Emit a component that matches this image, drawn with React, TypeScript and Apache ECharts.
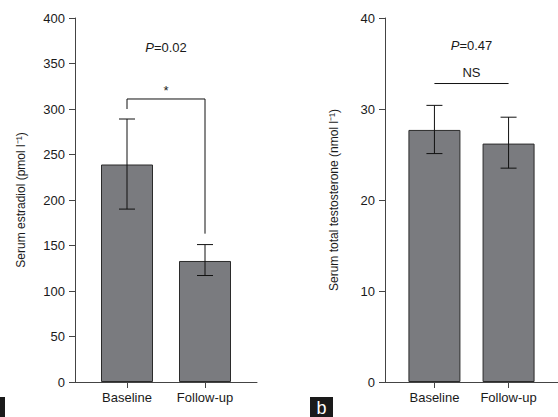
import React, { useEffect, useRef } from "react";
import * as echarts from "echarts";

const categories = ["Baseline", "Follow-up"];
const estradiolMean = [239, 133];
const estradiolLow = [190, 117];
const estradiolHigh = [289, 151];
const testoMean = [27.7, 26.2];
const testoLow = [25.1, 23.5];
const testoHigh = [30.4, 29.1];
// bracket: [x, y] points
const estradiolBracket = [[0, 300], [0, 311], [1, 311], [1, 163]];
const testoBracket = [[0, 32.8], [1, 32.8]];
const estradiolNotes = [
  { x: 0.5, y: 368, text: "{i|P}=0.02" },
  { x: 0.5, y: 320, text: "*" },
];
const testoNotes = [
  { x: 0.5, y: 37.0, text: "{i|P}=0.47" },
  { x: 0.5, y: 34.0, text: "NS" },
];

const FONT = "'Liberation Sans', Arial, Helvetica, sans-serif";
const BAR = "#7a7b7f";
const DARK = "#2b2b2b";
const AXIS = "#444";

function xAxisDef(gridIndex: number) {
  return {
    type: "value",
    gridIndex,
    min: -2 / 3,
    max: 5 / 3,
    splitLine: { show: false },
    axisLine: { show: true, onZero: false, lineStyle: { color: AXIS, width: 1 } },
    axisTick: { show: true, customValues: [0, 1], length: 6, lineStyle: { color: AXIS } },
    axisLabel: {
      customValues: [0, 1],
      formatter: (v: number) => categories[Math.round(v)] ?? "",
      color: "#1a1a1a",
      fontSize: 13,
      fontFamily: FONT,
      margin: 9,
    },
  };
}

function yAxisDef(gridIndex: number, max: number, interval: number, name: string, nameGap: number) {
  return {
    type: "value",
    gridIndex,
    min: 0,
    max,
    interval,
    name,
    nameLocation: "middle",
    nameGap,
    nameTextStyle: { color: "#1a1a1a", fontSize: 12, fontFamily: FONT },
    splitLine: { show: false },
    axisLine: { show: true, onZero: false, lineStyle: { color: AXIS, width: 1 } },
    axisTick: { show: true, length: 6, lineStyle: { color: AXIS } },
    axisLabel: { color: "#1a1a1a", fontSize: 13, fontFamily: FONT, margin: 10 },
  };
}

function errorSeries(idx: number, lows: number[], highs: number[]) {
  return {
    type: "custom",
    xAxisIndex: idx,
    yAxisIndex: idx,
    z: 5,
    data: lows.map((lo, i) => [i, lo, highs[i]]),
    renderItem: (params: any, api: any) => {
      const x = api.value(0);
      const p1 = api.coord([x, api.value(1)]);
      const p2 = api.coord([x, api.value(2)]);
      const w = 8;
      const st = { stroke: "#111", lineWidth: 1 };
      return {
        type: "group",
        children: [
          { type: "line", shape: { x1: p1[0], y1: p1[1], x2: p2[0], y2: p2[1] }, style: st },
          { type: "line", shape: { x1: p1[0] - w, y1: p1[1], x2: p1[0] + w, y2: p1[1] }, style: st },
          { type: "line", shape: { x1: p2[0] - w, y1: p2[1], x2: p2[0] + w, y2: p2[1] }, style: st },
        ],
      };
    },
  };
}

function bracketSeries(idx: number, pts: number[][]) {
  return {
    type: "custom",
    xAxisIndex: idx,
    yAxisIndex: idx,
    z: 5,
    data: [0],
    renderItem: (params: any, api: any) => ({
      type: "polyline",
      shape: { points: pts.map((p) => api.coord(p)) },
      style: { stroke: "#111", lineWidth: 1, fill: "none" },
    }),
  };
}

function notesSeries(idx: number, notes: { x: number; y: number; text: string }[]) {
  return {
    type: "custom",
    xAxisIndex: idx,
    yAxisIndex: idx,
    z: 6,
    data: notes.map((n, i) => [n.x, n.y, i]),
    renderItem: (params: any, api: any) => {
      const n = notes[api.value(2)];
      const p = api.coord([n.x, n.y]);
      return {
        type: "text",
        x: p[0],
        y: p[1],
        style: {
          text: n.text,
          fill: "#1a1a1a",
          font: `13px ${FONT}`,
          align: "center",
          verticalAlign: "middle",
          rich: { i: { fontStyle: "italic", fontSize: 13, fontFamily: FONT, fill: "#1a1a1a" } },
        },
      };
    },
  };
}

export default function App() {
  const ref = useRef<HTMLDivElement>(null);
  useEffect(() => {
    if (!ref.current) return;
    const chart = echarts.init(ref.current, undefined, { renderer: "svg" });
    chart.setOption({
      animation: false,
      backgroundColor: "#fff",
      grid: [
        { left: 75, right: 301, top: 18, bottom: 35 },
        { left: 385, right: -9, top: 18, bottom: 35 },
      ],
      xAxis: [xAxisDef(0), xAxisDef(1)],
      yAxis: [
        yAxisDef(0, 400, 50, "Serum estradiol (pmol l\u207B\u00B9)", 48),
        yAxisDef(1, 40, 10, "Serum total testosterone (nmol l\u207B\u00B9)", 45),
      ],
      series: [
        {
          type: "bar",
          xAxisIndex: 0,
          yAxisIndex: 0,
          barWidth: 52,
          data: estradiolMean.map((v, i) => [i, v]),
          itemStyle: { color: BAR, borderColor: DARK, borderWidth: 1 },
        },
        {
          type: "bar",
          xAxisIndex: 1,
          yAxisIndex: 1,
          barWidth: 52,
          data: testoMean.map((v, i) => [i, v]),
          itemStyle: { color: BAR, borderColor: DARK, borderWidth: 1 },
        },
        errorSeries(0, estradiolLow, estradiolHigh),
        errorSeries(1, testoLow, testoHigh),
        bracketSeries(0, estradiolBracket),
        bracketSeries(1, testoBracket),
        notesSeries(0, estradiolNotes),
        notesSeries(1, testoNotes),
      ],
      graphic: [
        { type: "rect", left: 0, top: 397, shape: { width: 5, height: 20 }, style: { fill: "#1a1a1a" } },
        { type: "rect", left: 310, top: 397, shape: { width: 23, height: 20 }, style: { fill: "#1a1a1a" } },
        {
          type: "text",
          x: 321.5,
          y: 408,
          style: { text: "b", fill: "#fff", font: `18px ${FONT}`, align: "center", verticalAlign: "middle" },
        },
      ],
    });
    return () => chart.dispose();
  }, []);
  return (
    <div
      ref={ref}
      style={{ position: "fixed", left: 0, top: 0, width: 558, height: 417, background: "#fff" }}
    />
  );
}
